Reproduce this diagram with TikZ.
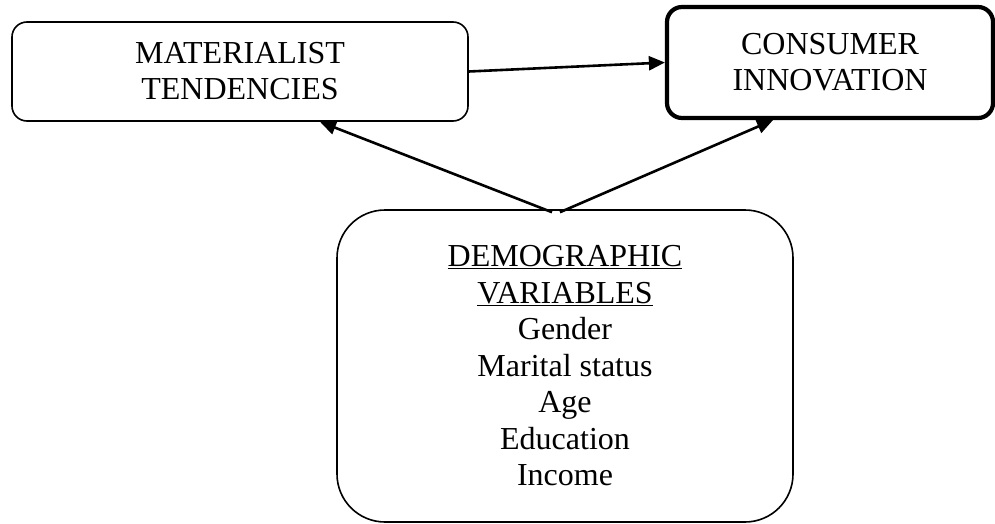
\documentclass[tikz,border=0pt]{standalone}
\usepackage{fontspec}
\setmainfont{Liberation Serif}
\usetikzlibrary{arrows.meta,calc}
\begin{document}
\begin{tikzpicture}[x=1pt,y=-1pt,
  box/.style={draw,line width=1.6pt,rounded corners=15pt,align=center,inner sep=0pt,
    font=\fontsize{32}{36}\selectfont},
  arr/.style={line width=2.6pt,-{Triangle[length=16pt,width=14pt]}}]
\useasboundingbox (0,0) rectangle (995,524);
\node[box,minimum width=456pt,minimum height=99pt] (mat) at (240,71.5)
  {MATERIALIST\\TENDENCIES};
\node[box,line width=4.2pt,minimum width=326pt,minimum height=111pt] (con) at (830,62.5)
  {CONSUMER\\INNOVATION};
\node[box,rounded corners=48pt,minimum width=456pt,minimum height=312pt,
  font=\fontsize{32}{36.5}\selectfont] (dem) at (565,366)
  {\underline{DEMOGRAPHIC}\\\underline{VARIABLES}\\Gender\\Marital status\\Age\\Education\\Income};
\draw[arr] (mat.east) -- (con.west);
\draw[arr] ($(dem.north)+(-13,3)$) -- ($(mat.south)+(80,0)$);
\draw[arr] ($(dem.north)+(-5,3)$) -- ($(con.south)+(-57,0)$);
\end{tikzpicture}
\end{document}
